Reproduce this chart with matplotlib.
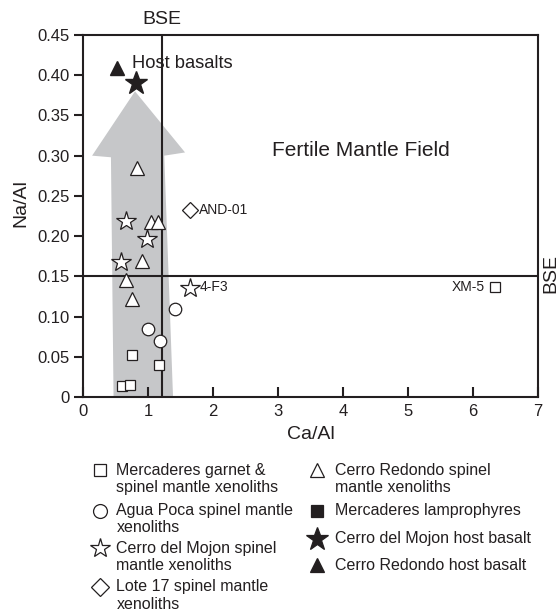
import numpy as np
import matplotlib
matplotlib.use('Agg')
import matplotlib.pyplot as plt
from matplotlib.patches import Polygon

plt.rcParams['font.family'] = ['Liberation Sans', 'DejaVu Sans']

INK = '#231f20'
GREY = '#c6c7c9'

# Data (Ca/Al, Na/Al)
merc_ca = [0.76, 1.17, 0.60, 0.72, 6.34]
merc_na = [0.052, 0.040, 0.014, 0.015, 0.137]

agua_ca = [1.42, 1.00, 1.19]
agua_na = [0.109, 0.085, 0.069]

mojon_ca = [0.66, 0.98, 0.59, 1.64]
mojon_na = [0.219, 0.196, 0.168, 0.135]

lote_ca = [1.64]
lote_na = [0.233]

redondo_ca = [0.83, 1.04, 1.15, 0.91, 0.66, 0.76]
redondo_na = [0.285, 0.217, 0.217, 0.169, 0.146, 0.122]

host_mojon_ca = [0.81]
host_mojon_na = [0.390]
host_redondo_ca = [0.53]
host_redondo_na = [0.409]

bse_ca = 1.21
bse_na = 0.15

# grey arrow outline (Ca/Al, Na/Al)
arrow_ca = [0.47, 0.43, 0.14, 0.80, 1.57, 1.25, 1.385]
arrow_na = [0.0, 0.298, 0.300, 0.380, 0.304, 0.300, 0.0]

xticks = [0, 1, 2, 3, 4, 5, 6, 7]
yticks = [0, 0.05, 0.10, 0.15, 0.20, 0.25, 0.30, 0.35, 0.40, 0.45]
ytick_labels = ['0', '0.05', '0.10', '0.15', '0.20', '0.25', '0.30', '0.35', '0.40', '0.45']

fig = plt.figure(figsize=(5.58, 6.15), dpi=100)
ax = fig.add_axes([83 / 558, 1 - 397 / 615, 455 / 558, 362 / 615])

ax.add_patch(Polygon(np.column_stack([arrow_ca, arrow_na]), closed=True,
                     facecolor=GREY, edgecolor='none', zorder=1))

ax.axvline(bse_ca, color=INK, lw=1.5, zorder=2)
ax.axhline(bse_na, color=INK, lw=1.5, zorder=2)

open_kw = dict(linestyle='none', markerfacecolor='white', markeredgecolor=INK,
               markeredgewidth=0.9, zorder=4)
ax.plot(merc_ca, merc_na, marker='s', markersize=7.5, **open_kw)
ax.plot(agua_ca, agua_na, marker='o', markersize=9, **open_kw)
ax.plot(mojon_ca, mojon_na, marker='*', markersize=15, **open_kw)
ax.plot(lote_ca, lote_na, marker='D', markersize=8, **open_kw)
ax.plot(redondo_ca, redondo_na, marker='^', markersize=9.5, **open_kw)
ax.plot(host_mojon_ca, host_mojon_na, marker='*', markersize=17, linestyle='none',
        color=INK, zorder=4)
ax.plot(host_redondo_ca, host_redondo_na, marker='^', markersize=10, linestyle='none',
        color=INK, zorder=4)

ax.text(0.76, 0.415, 'Host basalts', fontsize=13.2, va='center', ha='left', color=INK)
ax.text(2.9, 0.307, 'Fertile Mantle Field', fontsize=15, va='center', ha='left', color=INK)
ax.text(1.78, 0.233, 'AND-01', fontsize=10, va='center', ha='left', color=INK)
ax.text(1.8, 0.137, '4-F3', fontsize=10, va='center', ha='left', color=INK)
ax.text(6.18, 0.137, 'XM-5', fontsize=10, va='center', ha='right', color=INK)
ax.text(bse_ca, 0.459, 'BSE', fontsize=14, va='bottom', ha='center', color=INK,
        clip_on=False)
ax.text(7.195, bse_na + 0.003, 'BSE', fontsize=14, va='center', ha='center', rotation=90,
        color=INK, clip_on=False)

ax.set_xlim(0, 7)
ax.set_ylim(0, 0.45)
ax.set_xticks(xticks)
ax.set_yticks(yticks)
ax.set_yticklabels(ytick_labels)
ax.tick_params(axis='x', direction='in', length=7, width=1.5, pad=5,
               labelsize=12, colors=INK)
ax.tick_params(axis='y', direction='out', length=6.5, width=1.5, pad=3,
               labelsize=12, colors=INK)
for s in ax.spines.values():
    s.set_linewidth(1.5)
    s.set_color(INK)
ax.set_xlabel('Ca/Al', fontsize=14, color=INK, labelpad=5)
ax.set_ylabel('Na/Al', fontsize=14, color=INK)
ax.yaxis.set_label_coords(-0.118, 0.536)

# legend drawn by hand, in pixel coordinates
lax = fig.add_axes([0, 0, 1, 1], zorder=-1)
lax.set_xlim(0, 558)
lax.set_ylim(615, 0)
lax.axis('off')

legend_left = [
    ('s', 'white', 8.5, 470, ['Mercaderes garnet &', 'spinel mantle xenoliths']),
    ('o', 'white', 10, 510.5, ['Agua Poca spinel mantle', 'xenoliths']),
    ('*', 'white', 15, 548, ['Cerro del Mojon spinel', 'mantle xenoliths']),
    ('D', 'white', 9, 587, ['Lote 17 spinel mantle', 'xenoliths']),
]
legend_right = [
    ('^', 'white', 9.5, 470, ['Cerro Redondo spinel', 'mantle xenoliths']),
    ('s', INK, 8.5, 511, ['Mercaderes lamprophyres']),
    ('*', INK, 17, 538.5, ['Cerro del Mojon host basalt']),
    ('^', INK, 10, 565, ['Cerro Redondo host basalt']),
]

for entries, mx, tx in [(legend_left, 100, 116.5), (legend_right, 316.5, 335)]:
    for marker, face, size, y, lines in entries:
        lax.plot([mx], [y], marker=marker, markersize=size, markerfacecolor=face,
                 markeredgecolor=INK, markeredgewidth=0.9, linestyle='none')
        for i, line in enumerate(lines):
            lax.text(tx, y + i * 17.5, line, fontsize=11.5, va='center', ha='left', color=INK)

fig.savefig('out.png', dpi=100)
